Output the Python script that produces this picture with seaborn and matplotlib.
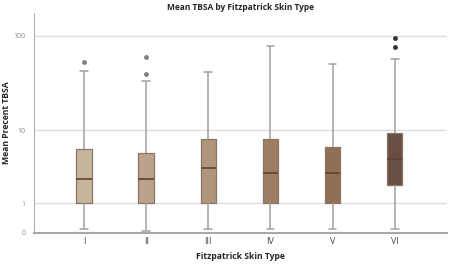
import numpy as np
import pandas as pd
import matplotlib
matplotlib.use("Agg")
import matplotlib.pyplot as plt
import seaborn as sns

# mean percent TBSA per patient, grouped by Fitzpatrick skin type (estimated)
skin_types = ["I", "II", "III", "IV", "V", "VI"]
tbsa_I = [0.1, 0.5, 1, 1, 1.5, 2, 2.5, 3, 4.5, 6.1, 12, 43, 54]
tbsa_II = [0.05, 0.4, 1, 1, 1.5, 2, 2.5, 3, 4, 5.5, 34, 40, 61]
tbsa_III = [0.1, 0.5, 1, 1, 2, 3, 3.6, 5, 7, 8.1, 15, 25, 42]
tbsa_IV = [0.1, 0.5, 1, 1, 1.5, 2, 3.1, 4.5, 6, 8.1, 18, 35, 78]
tbsa_V = [0.1, 0.5, 1, 1, 1.5, 2, 3.1, 4, 5, 6.5, 12, 25, 51]
tbsa_VI = [0.1, 1, 1.5, 2.05, 3, 4, 4.6, 6, 8, 9.3, 57, 76, 95]

fill_colors = ["#cdb595", "#c3a282", "#b89474", "#a97c5a", "#9b6d4d", "#6f4d3d"]
flier_colors = ["#808080", "#808080", "#808080", "#808080", "#808080", "#333333"]

groups = [tbsa_I, tbsa_II, tbsa_III, tbsa_IV, tbsa_V, tbsa_VI]
df = pd.DataFrame({
    "skin": np.repeat(skin_types, [len(g) for g in groups]),
    "tbsa": np.concatenate(groups),
})

sns.set_style("white")
plt.rcParams["font.family"] = ["Open Sans", "DejaVu Sans"]

fig, ax = plt.subplots(figsize=(4.5, 2.64), dpi=100)
fig.subplots_adjust(left=0.075, right=0.993, top=0.95, bottom=0.118)

# axis is log10(x + 1)
ax.set_yscale("function", functions=(lambda v: np.log10(np.clip(v, -0.999, None) + 1),
                                     lambda v: 10 ** v - 1))
ax.set_ylim(0, 170)

sns.boxplot(data=df, x="skin", y="tbsa", hue="skin", order=skin_types,
            palette=fill_colors, legend=False, width=0.25, whis=1.5,
            linewidth=0.9, linecolor="#8a7666",
            whiskerprops=dict(color="#a0a0a0", linewidth=1.1),
            capprops=dict(color="#a0a0a0", linewidth=1.1),
            medianprops=dict(color="#634030", linewidth=1.2),
            flierprops=dict(marker="o", markersize=3.5, markeredgewidth=0),
            ax=ax)

for cont, fc in zip(ax.containers, flier_colors):
    for fl in cont.fliers:
        fl.set_markerfacecolor(fc)
        fl.set_markeredgecolor(fc)

ax.set_xlim(-0.81, 5.84)
ax.set_yticks([0, 1, 10, 100])
ax.set_yticklabels(["0", "1", "10", "100"])
ax.yaxis.grid(True, color="#dcdcdc", linewidth=1)
ax.set_axisbelow(True)
ax.tick_params(axis="y", labelsize=5, colors="#888888", length=0, pad=6)
ax.tick_params(axis="x", labelsize=6.5, colors="#444444", length=0, pad=3)

for s in ["top", "right"]:
    ax.spines[s].set_visible(False)
ax.spines["left"].set_color("#b0b0b0")
ax.spines["bottom"].set_color("#a8a8a8")
ax.spines["bottom"].set_linewidth(1.5)

ax.set_title("Mean TBSA by Fitzpatrick Skin Type", fontsize=6, fontweight="bold", pad=2)
ax.set_xlabel("Fitzpatrick Skin Type", fontsize=6.2, fontweight="bold", labelpad=4)
ax.set_ylabel("Mean Precent TBSA", fontsize=6.2, fontweight="bold")
ax.yaxis.set_label_coords(-0.056, 0.5)

plt.savefig("out.png", dpi=100)
plt.close()
